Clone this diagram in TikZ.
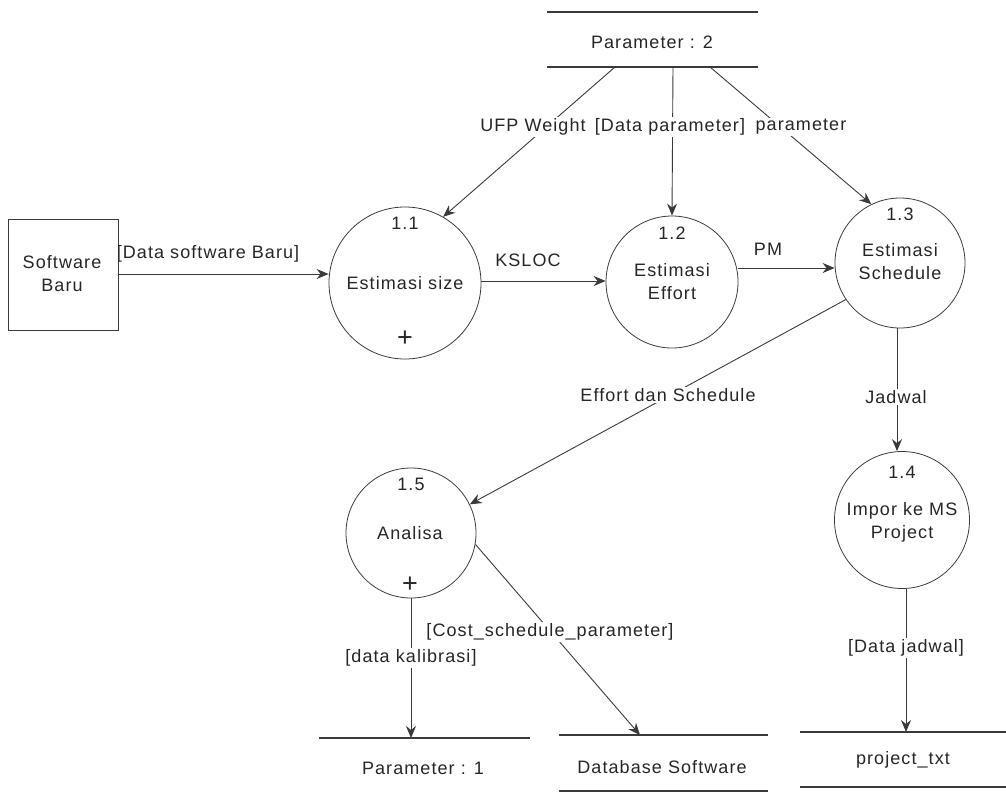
\documentclass[tikz,border=0pt]{standalone}
\usepackage{fontspec}
\setmainfont{Liberation Sans}[LetterSpace=6]
\usetikzlibrary{arrows.meta,shapes.geometric}
\definecolor{ink}{HTML}{262626}
\definecolor{wire}{HTML}{3A3A3A}
\begin{document}
\begin{tikzpicture}[x=1pt,y=-1pt,
  every node/.style={text=ink,font=\fontsize{18}{21}\selectfont,inner sep=1pt},
  proc/.style={draw=wire,line width=0.8pt,circle,inner sep=0pt},
  oval/.style={draw=wire,line width=0.8pt,ellipse,inner sep=0pt},
  plus/.style={font=\fontsize{27}{27}\selectfont},
  flow/.style={draw=wire,line width=0.9pt,-{Stealth[length=12pt,width=10pt,inset=4pt]}},
  storeline/.style={draw=wire,line width=1.1pt},
  lbl/.style={fill=white,inner sep=1.5pt}]
\useasboundingbox (0,0) rectangle (1006,793);

% external entity
\node[draw=wire,line width=0.9pt,minimum width=110pt,minimum height=111pt] (sw) at (63,275) {};
\node (swt) at (62,276) {\begin{tabular}{@{}c@{}}Software\\[2pt]Baru\end{tabular}};

% processes
\node[proc,minimum size=152pt] (p11) at (405,283) {};
\node (p11n) at (405,223) {1.1};
\node (p11t) at (405,283) {Estimasi size};
\node[plus] (p11s) at (405,339) {+};

\node[proc,minimum size=132pt] (p12) at (672,282) {};
\node (p12n) at (672,233) {1.2};
\node (p12t) at (672,284) {\begin{tabular}{@{}c@{}}Estimasi\\[2pt]Effort\end{tabular}};

\node[proc,minimum size=130pt] (p13) at (900,263) {};
\node (p13n) at (900,214) {1.3};
\node (p13t) at (900,264) {\begin{tabular}{@{}c@{}}Estimasi\\[2pt]Schedule\end{tabular}};

\node[oval,minimum width=135pt,minimum height=137pt] (p14) at (902,520) {};
\node (p14n) at (902,472) {1.4};
\node (p14t) at (902,523) {\begin{tabular}{@{}c@{}}Impor ke MS\\[2pt]Project\end{tabular}};

\node[proc,minimum size=130pt] (p15) at (411,533) {};
\node (p15n) at (411,484) {1.5};
\node (p15t) at (410,533) {Analisa};
\node[plus] (p15s) at (410,585) {+};

% data stores
\draw[storeline] (547,12) -- (758,12);
\draw[storeline] (547,67) -- (758,67);
\node (s2) at (652,42) {Parameter : 2};
\coordinate (s2a) at (615,67);
\coordinate (s2b) at (673,67);
\coordinate (s2c) at (710,67);

\draw[storeline] (319,738) -- (530,738);
\node (s1) at (423,768) {Parameter : 1};
\coordinate (s1in) at (411,738);

\draw[storeline] (559,735) -- (768,735);
\draw[storeline] (559,791) -- (768,791);
\node (sdb) at (662,767) {Database Software};
\coordinate (sdbin) at (640,735);

\draw[storeline] (800,732) -- (1006,732);
\draw[storeline] (800,787) -- (1006,787);
\node (spt) at (903,760) {project\_txt};
\coordinate (sptin) at (906,732);

% data flows
\draw[flow] (sw.east |- 0,274) -- (p11.west |- 0,274);
\node (l1) at (208,254) {[Data software Baru]};

\draw[flow] (p11.east |- 0,281) -- (p12.west |- 0,281);
\node (l2) at (528,260) {KSLOC};

\draw[flow] (p12.east |- 0,268) -- (p13.west |- 0,268);
\node (l3) at (768,249) {PM};

\draw[flow] (s2a) -- (p11.60);
\draw[flow] (s2b) -- (p12.north);
\draw[flow] (s2c) -- (p13.116);
\node[lbl] (l4) at (533,127) {UFP Weight};
\node[lbl] (l5) at (670,127) {[Data parameter]};
\node[lbl] (l6) at (801,127) {parameter};

\draw[flow] (p13.214) -- (p15.26);
\node[lbl] (l7) at (668,395) {Effort dan Schedule};

\draw[flow] (p13.south -| 897,0) -- (p14.north -| 897,0);
\node[lbl] (l8) at (896,397) {Jadwal};

\draw[flow] (p15.south -| s1in) -- (s1in);
\node[lbl] (l9) at (411,658) {[data kalibrasi]};

\draw[flow] (p15.-10) -- (sdbin);
\node[lbl] (l10) at (550,632) {[Cost\_schedule\_parameter]};

\draw[flow] (p14.south -| sptin) -- (sptin);
\node[lbl] (l11) at (906,648) {[Data jadwal]};
\end{tikzpicture}
\end{document}
